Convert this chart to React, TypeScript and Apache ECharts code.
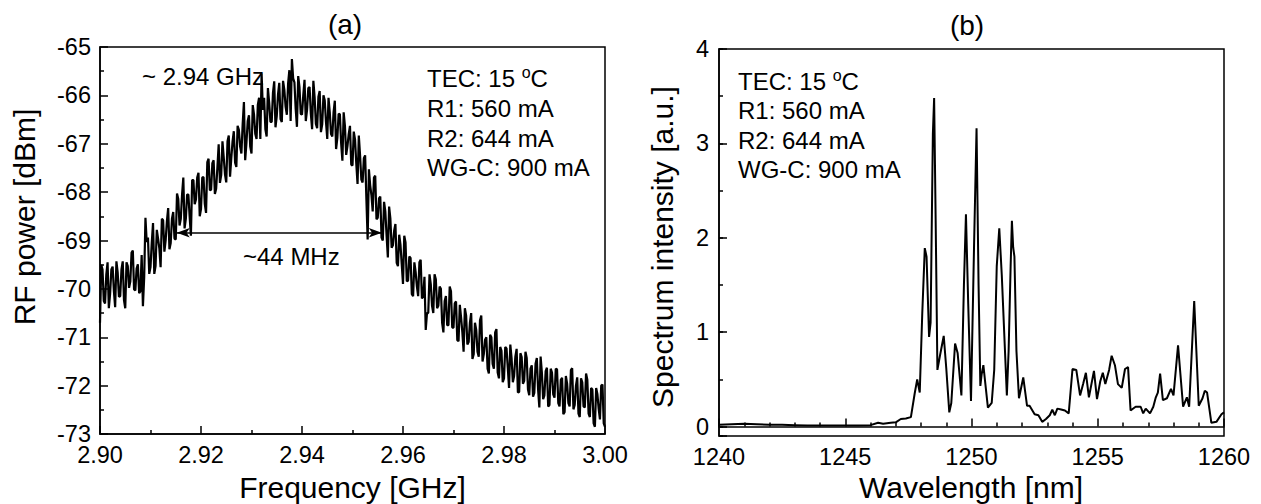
import React, { useEffect, useRef } from "react";
import * as echarts from "echarts";

// ---------- Panel (a): RF spectrum ----------
const FREQ_START = 2.9; // GHz
const FREQ_STEP = 0.00025; // GHz (sample spacing)
const rfPower = [
  -70.7, -69.5, -69.6, -70.25, -70.3, -69.7, -69.45, -70.4, -70.1, -69.6, -69.54, -70.04, -70.38, -69.43, -69.66, -70.16, -70.15, -69.6, -69.43, -70.23,
  -70.4, -69.45, -69.53, -69.98, -69.85, -69.25, -69.21, -70.01, -70.03, -69.58, -69.49, -70.09, -70.05, -69.3, -70.36, -69.76, -68.53, -69.03, -68.94, -69.69,
  -69.55, -69.05, -68.64, -69.69, -69.53, -68.78, -68.96, -69.16, -69.55, -68.55, -68.58, -69.23, -69.0, -68.6, -68.33, -69.18, -69.05, -68.55, -68.41, -68.96,
  -68.98, -68.03, -68.14, -68.69, -68.55, -68.05, -67.7, -68.75, -68.55, -68.05, -68.05, -68.5, -68.9, -67.75, -67.75, -68.25, -68.15, -67.7, -67.6, -68.5,
  -68.35, -67.7, -67.69, -68.24, -68.43, -67.38, -67.31, -67.96, -67.95, -67.4, -67.34, -68.04, -67.93, -67.48, -67.01, -67.81, -67.65, -66.95, -67.28, -67.63,
  -67.8, -66.95, -66.83, -67.68, -67.3, -66.95, -66.74, -67.39, -67.48, -66.63, -66.71, -67.06, -67.2, -66.6, -66.14, -67.34, -66.98, -66.53, -66.41, -67.06,
  -67.2, -66.2, -66.4, -66.8, -66.9, -66.2, -66.05, -66.9, -65.55, -66.3, -66.05, -66.7, -66.85, -65.85, -66.15, -66.55, -66.55, -65.95, -65.71, -66.66,
  -66.43, -65.98, -65.74, -66.49, -66.55, -65.7, -65.88, -66.23, -66.4, -65.75, -65.48, -66.53, -65.25, -65.65, -65.73, -66.28, -66.65, -65.6, -65.83, -66.38,
  -66.4, -66.0, -65.68, -66.53, -66.3, -65.85, -65.83, -66.38, -66.7, -65.7, -66.04, -66.59, -66.68, -66.03, -65.91, -66.76, -66.6, -66.0, -66.1, -66.55,
  -66.9, -66.05, -66.35, -66.8, -66.85, -66.35, -66.11, -67.11, -66.88, -66.38, -66.39, -66.99, -67.35, -66.35, -66.63, -67.23, -67.05, -66.8, -66.63, -67.43,
  -67.45, -66.75, -66.91, -67.41, -67.83, -66.83, -67.24, -67.74, -67.8, -67.3, -67.24, -68.14, -68.98, -67.53, -67.86, -68.06, -68.4, -67.7, -67.66, -68.56,
  -68.53, -68.13, -68.09, -68.94, -69.0, -68.2, -68.4, -68.9, -69.35, -68.3, -68.55, -69.15, -69.1, -68.8, -68.66, -69.46, -69.53, -68.88, -69.09, -69.49,
  -69.9, -68.9, -69.04, -69.84, -69.83, -69.33, -69.36, -70.11, -70.15, -69.45, -69.65, -69.95, -70.15, -69.45, -69.4, -70.2, -70.15, -69.75, -70.85, -70.5,
  -70.5, -69.7, -69.9, -70.35, -70.5, -69.7, -69.8, -70.4, -70.35, -69.95, -70.0, -70.7, -70.9, -70.25, -70.15, -70.75, -70.75, -69.95, -70.05, -70.8,
  -70.8, -70.3, -70.26, -71.06, -71.08, -70.33, -70.59, -70.89, -71.3, -70.4, -70.55, -71.15, -71.1, -70.7, -70.5, -71.45, -71.35, -70.7, -70.85, -71.3,
  -71.4, -70.65, -70.55, -71.5, -71.35, -71.05, -71.0, -71.65, -71.75, -70.95, -71.0, -71.55, -71.65, -70.9, -70.83, -71.73, -71.85, -71.2, -71.28, -71.93,
  -71.85, -71.2, -71.23, -71.63, -72.05, -71.15, -71.43, -71.93, -71.8, -71.4, -71.24, -72.14, -72.13, -71.33, -71.41, -71.96, -71.9, -71.3, -71.43, -72.08,
  -72.2, -71.65, -71.58, -72.23, -72.15, -71.55, -71.43, -72.08, -72.45, -71.4, -71.73, -72.28, -72.2, -71.7, -71.63, -72.43, -72.4, -71.65, -71.73, -72.18,
  -72.25, -71.65, -71.66, -72.36, -72.43, -71.88, -71.84, -72.59, -72.55, -71.8, -71.96, -72.36, -72.43, -71.68, -71.64, -72.49, -72.4, -72.0, -71.83, -72.58,
  -72.65, -71.85, -71.93, -72.43, -72.45, -71.75, -71.88, -72.58, -72.65, -72.05, -72.08, -72.78, -72.85, -72.05, -72.18, -72.48, -72.7, -72.0, -71.98, -72.78,
  -72.85,
];
const freqTicks = [2.9, 3.0, 0.02]; // min, max, interval
const powerTicks = [-73, -65, 1];
const fwhmArrow = { x0: 2.9152, x1: 2.9558, y: -68.84 };

// ---------- Panel (b): optical spectrum ----------
const wavelength = [
  1240.0, 1240.5, 1241.0, 1241.5, 1242.0, 1242.5, 1243.0, 1243.5, 1244.0, 1244.5,
  1245.0, 1245.5, 1246.0, 1246.3, 1246.5, 1246.8, 1247.0, 1247.2, 1247.4, 1247.6,
  1247.75, 1247.85, 1247.95, 1248.05, 1248.15, 1248.22, 1248.32, 1248.38, 1248.47, 1248.52,
  1248.58, 1248.65, 1248.75, 1248.9, 1249.0, 1249.12, 1249.2, 1249.35, 1249.45, 1249.6,
  1249.7, 1249.78, 1249.87, 1249.98, 1250.1, 1250.2, 1250.28, 1250.35, 1250.4, 1250.47,
  1250.55, 1250.65, 1250.8, 1250.9, 1251.0, 1251.1, 1251.2, 1251.4, 1251.47, 1251.55,
  1251.6, 1251.65, 1251.7, 1251.78, 1251.88, 1252.05, 1252.2, 1252.3, 1252.5, 1252.65,
  1252.8, 1252.95, 1253.1, 1253.2, 1253.3, 1253.4, 1253.55, 1253.7, 1253.85, 1254.0,
  1254.15, 1254.3, 1254.42, 1254.53, 1254.65, 1254.85, 1254.97, 1255.1, 1255.2, 1255.3,
  1255.45, 1255.55, 1255.68, 1255.8, 1255.95, 1256.08, 1256.2, 1256.3, 1256.5, 1256.7,
  1256.8, 1256.9, 1257.07, 1257.2, 1257.3, 1257.38, 1257.47, 1257.58, 1257.74, 1257.9,
  1258.0, 1258.18, 1258.38, 1258.53, 1258.62, 1258.82, 1259.0, 1259.15, 1259.24, 1259.33,
  1259.5, 1259.7, 1259.9, 1260.0,
];
const intensity = [
  0.02, 0.025, 0.03, 0.025, 0.02, 0.02, 0.015, 0.01, 0.01, 0.01,
  0.01, 0.01, 0.015, 0.04, 0.03, 0.04, 0.045, 0.08, 0.085, 0.1,
  0.35, 0.5, 0.36, 1.2, 1.89, 1.8, 0.95, 1.1, 3.1, 3.48,
  2.2, 0.6, 0.75, 0.96, 0.62, 0.15, 0.25, 0.88, 0.78, 0.33,
  1.5, 2.25, 1.3, 0.27, 1.9, 3.16, 1.5, 0.43, 0.55, 0.65,
  0.45, 0.2, 0.25, 0.6, 1.7, 2.1, 1.6, 0.33, 0.8, 1.7,
  2.18, 1.9, 1.8, 0.8, 0.3, 0.52, 0.22, 0.22, 0.13, 0.12,
  0.05, 0.08, 0.12, 0.18, 0.12, 0.19, 0.18, 0.17, 0.14, 0.61,
  0.6, 0.33, 0.45, 0.57, 0.31, 0.59, 0.29, 0.48, 0.57, 0.45,
  0.6, 0.75, 0.65, 0.45, 0.41, 0.61, 0.63, 0.17, 0.21, 0.21,
  0.14, 0.19, 0.14, 0.21, 0.31, 0.36, 0.56, 0.28, 0.3, 0.4,
  0.33, 0.86, 0.21, 0.31, 0.21, 1.33, 0.22, 0.3, 0.38, 0.36,
  0.04, 0.05, 0.13, 0.15,
];
const waveTicks = [1240, 1260, 5];
const intensityRange = [-0.1, 4];

const conditions = ["R1: 560 mA", "R2: 644 mA", "WG-C: 900 mA"];
const tecText = ["TEC: 15 ", "o", "C"];

const FONT = "'Liberation Sans', Arial, Helvetica, sans-serif";
const BLACK = "#000";

function App() {
  const ref = useRef<HTMLDivElement>(null);
  useEffect(() => {
    if (!ref.current) return;
    const chart = echarts.init(ref.current, undefined, { renderer: "svg" });

    const rfData = rfPower.map((v, i) => [FREQ_START + i * FREQ_STEP, v]);
    const specData = wavelength.map((w, i) => [w, intensity[i]]);

    const axisLine = { show: true, lineStyle: { color: BLACK, width: 1.5 } };
    const tick = (len: number) => ({ show: true, inside: true, length: len, lineStyle: { color: BLACK, width: 1.5 } });
    const minor = (n: number) => ({ show: true, splitNumber: n, length: 4, lineStyle: { color: BLACK, width: 1.5 } });
    const label = (margin: number, fmt?: any) => ({ color: BLACK, fontSize: 23.5, fontFamily: FONT, margin, formatter: fmt });

    const textBlock = (x: number, y: number, step: number) => {
      const els: any[] = [
        {
          type: "text",
          left: x,
          top: y,
          style: {
            text: `{a|${tecText[0]}}{s|${tecText[1]}}{a|${tecText[2]}}`,
            rich: {
              a: { fontSize: 24, fontFamily: FONT, fill: BLACK, lineHeight: 28 },
              s: { fontSize: 16, fontFamily: FONT, fill: BLACK, lineHeight: 28, verticalAlign: "top" },
            },
          },
        },
      ];
      conditions.forEach((c, i) => {
        els.push({
          type: "text",
          left: x,
          top: y + step * (i + 1),
          style: { text: c, fontSize: 24, fontFamily: FONT, fill: BLACK, lineHeight: 28 },
        });
      });
      return els;
    };

    const txt = (text: string, x: number, y: number, size: number, extra: any = {}) => ({
      type: "text",
      x,
      y,
      ...extra,
      style: { text, fontSize: size, fontFamily: FONT, fill: BLACK, align: "center", verticalAlign: "middle", ...(extra.style || {}) },
    });

    const option: any = {
      animation: false,
      textStyle: { fontFamily: FONT },
      grid: [
        { left: 100, top: 47, width: 505, height: 387, show: true, borderColor: BLACK, borderWidth: 1.5 },
        { left: 719, top: 49, width: 505, height: 387, show: true, borderColor: BLACK, borderWidth: 1.5 },
      ],
      xAxis: [
        {
          type: "value",
          gridIndex: 0,
          min: freqTicks[0],
          max: freqTicks[1],
          interval: freqTicks[2],
          axisLine,
          axisTick: tick(8),
          minorTick: minor(2),
          splitLine: { show: false },
          axisLabel: label(9, (v: number) => v.toFixed(2)),
        },
        {
          type: "value",
          gridIndex: 1,
          min: waveTicks[0],
          max: waveTicks[1],
          interval: waveTicks[2],
          axisLine,
          axisTick: tick(8),
          minorTick: minor(5),
          splitLine: { show: false },
          axisLabel: label(9, (v: number) => String(v)),
        },
      ],
      yAxis: [
        {
          type: "value",
          gridIndex: 0,
          position: "left",
          min: powerTicks[0],
          max: powerTicks[1],
          interval: powerTicks[2],
          axisLine,
          axisTick: tick(8),
          minorTick: minor(2),
          splitLine: { show: false },
          axisLabel: label(9, (v: number) => String(v)),
        },
        {
          type: "value",
          gridIndex: 1,
          position: "left",
          min: intensityRange[0],
          max: intensityRange[1],
          splitNumber: 4,
          axisLine,
          axisTick: tick(8),
          splitLine: { show: false },
          axisLabel: label(10, (v: number) => (Math.abs(v - Math.round(v)) < 1e-9 ? String(Math.round(v)) : "")),
        },
        {
          type: "value",
          gridIndex: 1,
          position: "left",
          min: intensityRange[0],
          max: intensityRange[1],
          splitNumber: 8,
          axisLine: { show: false },
          axisTick: tick(4),
          axisLabel: { show: false },
          splitLine: { show: false },
        },
      ],
      series: [
        {
          type: "line",
          xAxisIndex: 0,
          yAxisIndex: 0,
          data: rfData,
          showSymbol: false,
          lineStyle: { color: BLACK, width: 2.2 },
          markLine: {
            silent: true,
            symbol: ["arrow", "arrow"],
            symbolSize: [7, 13],
            lineStyle: { color: BLACK, width: 1.5, type: "solid" },
            label: { show: false },
            data: [[{ coord: [fwhmArrow.x0, fwhmArrow.y] }, { coord: [fwhmArrow.x1, fwhmArrow.y] }]],
          },
        },
        {
          type: "line",
          xAxisIndex: 1,
          yAxisIndex: 1,
          data: specData,
          showSymbol: false,
          lineStyle: { color: BLACK, width: 2 },
        },
      ],
      graphic: [
        txt("(a)", 345, 24, 28),
        txt("(b)", 967, 25, 28),
        txt("Frequency [GHz]", 352.5, 487, 30),
        txt("Wavelength [nm]", 971, 487, 30),
        txt("RF power [dBm]", 24, 217, 30, { rotation: Math.PI / 2 }),
        txt("Spectrum intensity [a.u.]", 662, 247, 30, { rotation: Math.PI / 2 }),
        { type: "text", x: 142, y: 76, style: { text: "~ 2.94 GHz", fontSize: 24, fontFamily: FONT, fill: BLACK, verticalAlign: "middle" } },
        { type: "text", x: 243, y: 256, style: { text: "~44 MHz", fontSize: 24, fontFamily: FONT, fill: BLACK, verticalAlign: "middle" } },
        ...textBlock(427, 64.6, 29.7),
        ...textBlock(738, 67.6, 29.3),
      ],
    };
    chart.setOption(option);
    return () => chart.dispose();
  }, []);
  return <div ref={ref} style={{ position: "fixed", left: 0, top: 0, width: 1261, height: 504, background: "#fff" }} />;
}

export default App;
